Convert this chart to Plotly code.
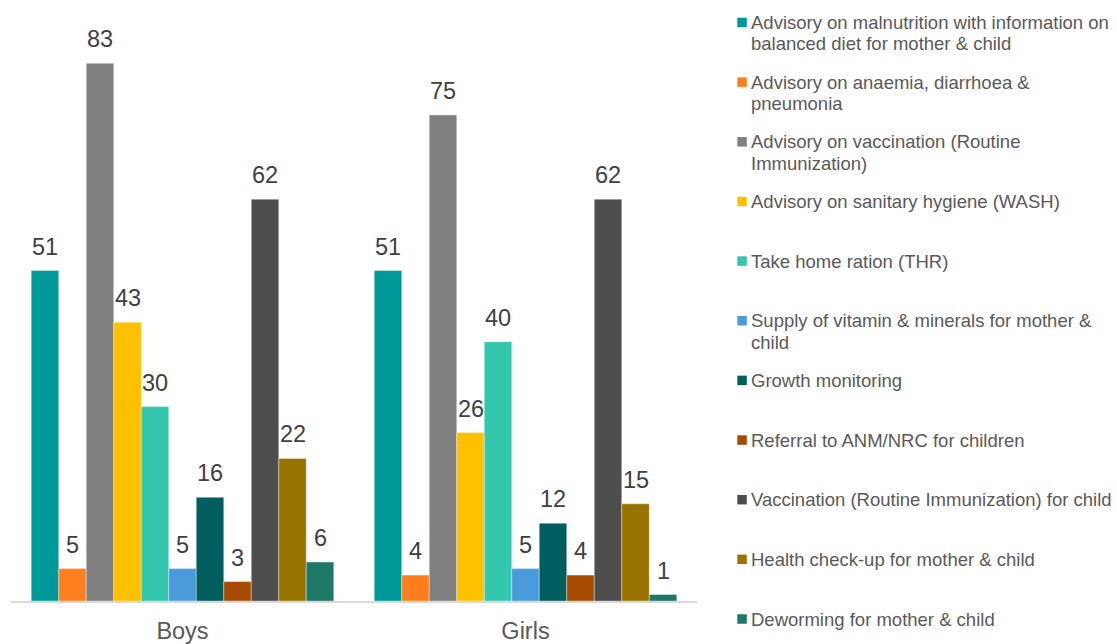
import plotly.graph_objects as go

# Services received, share of respondents (%)
groups = ["Boys", "Girls"]

series_names = [
    "Advisory on malnutrition with information on balanced diet for mother & child",
    "Advisory on anaemia, diarrhoea & pneumonia",
    "Advisory on vaccination (Routine Immunization)",
    "Advisory on sanitary hygiene (WASH)",
    "Take home ration (THR)",
    "Supply of vitamin & minerals for mother & child",
    "Growth monitoring",
    "Referral to ANM/NRC for children",
    "Vaccination (Routine Immunization) for child",
    "Health check-up for mother & child",
    "Deworming for mother & child",
]

# Legend text, wrapped line by line
legend_lines = [
    ["Advisory on malnutrition with information on", "balanced diet for mother & child"],
    ["Advisory on anaemia, diarrhoea &", "pneumonia"],
    ["Advisory on vaccination (Routine", "Immunization)"],
    ["Advisory on sanitary hygiene (WASH)"],
    ["Take home ration (THR)"],
    ["Supply of vitamin & minerals for mother &", "child"],
    ["Growth monitoring"],
    ["Referral to ANM/NRC for children"],
    ["Vaccination (Routine Immunization) for child"],
    ["Health check-up for mother & child"],
    ["Deworming for mother & child"],
]

boys_values = [51, 5, 83, 43, 30, 5, 16, 3, 62, 22, 6]
girls_values = [51, 4, 75, 26, 40, 5, 12, 4, 62, 15, 1]

colors = [
    "#009999", "#FF7F1E", "#808080", "#FFC000", "#33C7AD", "#4A9BDB",
    "#005E5E", "#A64B00", "#4D4D4D", "#997300", "#1E7866",
]

# Page geometry (pixels)
W, H = 1117, 644
M_L, M_R, M_T, M_B = 11, 420, 10, 43
plot_w = W - M_L - M_R
plot_h = H - M_T - M_B
px_per_unit = 6.48
y_max = plot_h / px_per_unit
bargap = 0.118

label_font = "Liberation Sans, Arial, sans-serif"

fig = go.Figure()
for name, color, b, g in zip(series_names, colors, boys_values, girls_values):
    fig.add_trace(go.Bar(
        name=name,
        x=groups,
        y=[b, g],
        marker=dict(color=color, line=dict(color="rgba(255,255,255,0.6)", width=0.6)),
        showlegend=False,
        hoverinfo="x+y+name",
    ))

# Value labels above each bar, positioned on the category axis
n = len(series_names)
bar_w = (1 - bargap) / n
annotations = []
for gi, vals in enumerate([boys_values, girls_values]):
    for i, v in enumerate(vals):
        annotations.append(dict(
            x=gi + (i - (n - 1) / 2) * bar_w,
            y=v,
            xref="x", yref="y",
            text=str(v),
            showarrow=False,
            yanchor="bottom",
            yshift=9,
            font=dict(family=label_font, size=23.5, color="#404040"),
        ))

# Legend drawn at the right: swatch + wrapped text lines
shapes = []
sq = 9.5
first_center = 22.5
entry_step = 59.65
line_step = 21.3
for i, (lines, color) in enumerate(zip(legend_lines, colors)):
    cy = first_center + i * entry_step
    x0 = (737.3 - M_L) / plot_w
    x1 = (737.3 + sq - M_L) / plot_w
    y0 = (H - M_B - (cy + sq / 2)) / plot_h
    y1 = (H - M_B - (cy - sq / 2)) / plot_h
    shapes.append(dict(type="rect", xref="paper", yref="paper",
                       x0=x0, x1=x1, y0=y0, y1=y1,
                       fillcolor=color, line=dict(width=0)))
    for k, line in enumerate(lines):
        ly = cy + k * line_step
        annotations.append(dict(
            x=(750 - M_L) / plot_w,
            y=(H - M_B - ly) / plot_h,
            xref="paper", yref="paper",
            text=line,
            showarrow=False,
            xanchor="left", yanchor="middle",
            borderpad=0,
            font=dict(family=label_font, size=18.5, color="#595959"),
        ))

fig.update_layout(
    width=W, height=H,
    margin=dict(l=M_L, r=M_R, t=M_T, b=M_B, pad=0, autoexpand=False),
    barmode="group",
    bargap=bargap,
    bargroupgap=0,
    plot_bgcolor="white",
    paper_bgcolor="white",
    showlegend=False,
    annotations=annotations,
    shapes=shapes,
    font=dict(family=label_font, color="#595959"),
)
fig.update_xaxes(
    type="category",
    automargin=False,
    showline=True, linecolor="#D9D9D9", linewidth=2,
    showgrid=False, zeroline=False,
    ticks="", ticklabelstandoff=8,
    tickfont=dict(family=label_font, size=23.5, color="#595959"),
)
fig.update_yaxes(
    range=[0, y_max],
    visible=False,
    automargin=False,
    showgrid=False, zeroline=False,
)

fig.write_html("out.html")
